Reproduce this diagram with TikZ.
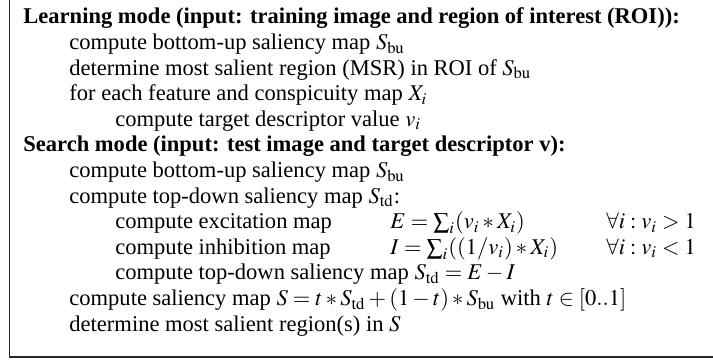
\documentclass[tikz,border=0pt]{standalone}
\usepackage{mathptmx}
\usepackage{fontspec}
\setmainfont{Liberation Serif}
\begin{document}
\begin{tikzpicture}[x=0.466pt,y=-0.466pt,
  line/.style={inner sep=0pt,anchor=base west,font=\fontsize{10.5pt}{12.6pt}\selectfont},
  frame/.style={draw=black!85,line width=0.8pt}]
\useasboundingbox (0,0) rectangle (713,360);
% left and bottom rules of the frame
\coordinate (tl) at (9.5,-2);
\coordinate (bl) at (9.5,357);
\coordinate (br) at (715,357);
\draw[frame] (tl) -- (bl) -- (br);
% learning mode
\node[line] (l1) at (23,24) {\textbf{Learning mode (input: training image and region of interest (ROI)):}};
\node[line] (l2) at (69,49.6) {compute bottom-up saliency map $S_{\mathrm{bu}}$};
\node[line] (l3) at (69,75.2) {determine most salient region (MSR) in ROI of $S_{\mathrm{bu}}$};
\node[line] (l4) at (69,100.8) {for each feature and conspicuity map $X_i$};
\node[line] (l5) at (115,126.4) {compute target descriptor value $v_i$};
% search mode
\node[line] (l6) at (23,152) {\textbf{Search mode (input: test image and target descriptor v):}};
\node[line] (l7) at (69,177.6) {compute bottom-up saliency map $S_{\mathrm{bu}}$};
\node[line] (l8) at (69,203.2) {compute top-down saliency map $S_{\mathrm{td}}$:};
\node[line] (l9) at (115,228.8) {compute excitation map};
\node[line] (l9b) at (390,228.8) {$E=\sum_i(v_i*X_i)$};
\node[line] (l9c) at (606,228.8) {$\forall i: v_i>1$};
\node[line] (l10) at (115,254.4) {compute inhibition map};
\node[line] (l10b) at (390,254.4) {$I=\sum_i((1/v_i)*X_i)$};
\node[line] (l10c) at (606,254.4) {$\forall i: v_i<1$};
\node[line] (l11) at (115,280) {compute top-down saliency map $S_{\mathrm{td}}=E-I$};
\node[line] (l12) at (69,305.6) {compute saliency map $S=t*S_{\mathrm{td}}+(1-t)*S_{\mathrm{bu}}$ with $t\in[0..1]$};
\node[line] (l13) at (69,331.2) {determine most salient region(s) in $S$};
\end{tikzpicture}
\end{document}
